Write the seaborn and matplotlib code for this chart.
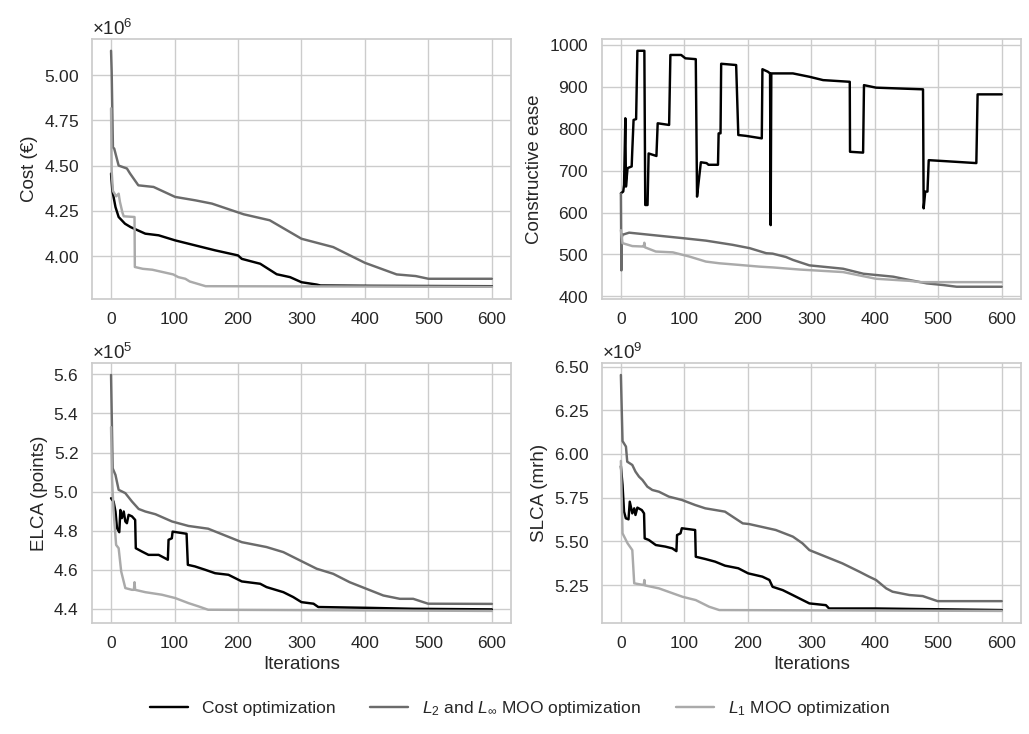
import numpy as np
import pandas as pd
import matplotlib
matplotlib.use("Agg")
import matplotlib.pyplot as plt
import seaborn as sns

# ── Data ──────────────────────────────────────────────────────
METHODS = ["Cost optimization", r"$L_2$ and $L_\infty$ MOO optimization", r"$L_1$ MOO optimization"]
COLORS = ["#000000", "#6b6b6b", "#aaaaaa"]

# Cost (x1e6 EUR)
cost_c_x = [0, 2, 7, 12, 22, 31, 54, 75, 101, 133, 164, 200, 206, 235, 261, 282, 300, 324, 330, 410, 600]
cost_c_y = [4.456, 4.364, 4.271, 4.216, 4.179, 4.16, 4.124, 4.115, 4.087, 4.059, 4.032, 4.004, 3.985,
            3.958, 3.90, 3.884, 3.856, 3.843, 3.838, 3.836, 3.834]
cost_l2_x = [0, 1, 3, 5, 12, 25, 30, 43, 67, 101, 133, 159, 209, 250, 300, 350, 400, 450, 480, 500, 600]
cost_l2_y = [5.134, 5.02, 4.60, 4.594, 4.50, 4.484, 4.456, 4.391, 4.382, 4.327, 4.308, 4.29, 4.231,
             4.198, 4.096, 4.05, 3.963, 3.899, 3.89, 3.875, 3.875]
cost_l1_x = [0, 1, 3, 8, 12, 14, 18, 20, 37, 37.5, 50, 65, 98, 106, 117, 124, 149, 600]
cost_l1_y = [4.816, 4.47, 4.36, 4.33, 4.345, 4.30, 4.24, 4.22, 4.216, 3.94, 3.93, 3.925, 3.899, 3.884,
             3.875, 3.86, 3.834, 3.831]

# Constructive ease
ease_c_x = [0, 3.7, 5, 7, 8, 10.5, 17, 18, 20, 24, 26, 37, 38.4, 42, 43.7, 56, 58, 76, 78, 95,
            101.6, 118, 120, 122.6, 126, 135, 138, 153, 154, 157, 158, 181.6, 185, 197, 222, 223,
            231.6, 235, 236, 237, 271, 297, 318.6, 360.6, 361, 381.6, 383, 402, 476, 477, 479.5,
            483, 485, 507, 560, 562, 600]
ease_c_y = [646, 650, 666, 825, 662, 706, 710, 749, 821, 823, 986, 986, 618, 618, 741, 735, 813, 809,
            976, 976, 968, 966, 638, 674, 720, 718, 714, 714, 789, 789, 955, 952, 785, 783, 777, 942,
            936, 932, 570, 932, 932, 924, 916, 912, 745, 743, 904, 898, 894, 610, 650, 650, 725, 723,
            718, 882, 882]
ease_l2_x = [0, 0.8, 1.5, 2.6, 13, 71, 97, 134, 176, 203, 229, 239, 260, 271, 297, 350, 382, 429,
             455, 482, 508, 529, 600]
ease_l2_y = [645, 462, 540, 547, 552, 543, 539, 533, 523, 515, 503, 502, 494, 487, 474, 466, 454, 447,
             439, 431, 427, 423, 423]
ease_l1_x = [0, 2.6, 18, 34, 36, 37, 38, 55, 82, 108, 134, 155, 187, 218, 240, 282, 350, 402, 455,
             471, 600]
ease_l1_y = [558, 527, 520, 519, 519, 528, 517, 507, 505, 495, 483, 479, 475, 471, 469, 464, 458, 442,
             437, 434, 434]

# ELCA (x1e5 points)
elca_c_x = [0, 4, 7, 9.4, 13, 14.7, 17, 20, 22.5, 25, 27.7, 33, 38, 39, 48.7, 59, 75, 85, 89.5, 90.6,
            95.8, 97, 119, 121, 132, 148, 164, 185, 206, 235, 245, 271.5, 287, 300, 319, 326.5,
            402.5, 476, 600]
elca_c_y = [4.966, 4.949, 4.898, 4.813, 4.792, 4.906, 4.864, 4.898, 4.847, 4.838, 4.881, 4.873, 4.855,
            4.71, 4.693, 4.676, 4.676, 4.659, 4.651, 4.753, 4.761, 4.795, 4.784, 4.625, 4.617, 4.6,
            4.582, 4.574, 4.54, 4.528, 4.511, 4.485, 4.46, 4.434, 4.426, 4.409, 4.405, 4.40, 4.397]
elca_l2_x = [0, 2.6, 7, 12, 22.5, 33, 43.5, 54, 70, 96, 122, 153, 206, 245, 271.5, 298, 324, 350,
             376, 402.5, 429, 455, 476, 499.5, 600]
elca_l2_y = [5.597, 5.119, 5.085, 5.009, 4.992, 4.949, 4.911, 4.898, 4.884, 4.847, 4.824, 4.81, 4.741,
             4.716, 4.69, 4.647, 4.605, 4.579, 4.536, 4.502, 4.468, 4.451, 4.451, 4.426, 4.425]
elca_l1_x = [0, 1.6, 4, 8, 12, 16, 22.5, 33, 36, 37, 38, 54, 80, 101, 122, 138, 153, 600]
elca_l1_y = [5.33, 5.068, 4.90, 4.727, 4.71, 4.591, 4.506, 4.497, 4.497, 4.536, 4.497, 4.485, 4.472,
             4.455, 4.429, 4.412, 4.395, 4.389]

# SLCA (x1e9 mrh)
slca_c_x = [0, 2.6, 5, 7.8, 12, 14, 18, 21, 23, 26, 33, 36.5, 37.5, 44, 55, 70, 81, 87.5, 88.5, 94,
            96, 117, 118, 133, 148.4, 164, 185, 200.5, 223, 234, 239, 255, 270.6, 281, 297, 323,
            328, 402, 600]
slca_c_y = [5.93, 5.823, 5.67, 5.632, 5.626, 5.727, 5.66, 5.689, 5.651, 5.693, 5.679, 5.66, 5.517,
            5.508, 5.479, 5.47, 5.46, 5.444, 5.536, 5.546, 5.575, 5.565, 5.412, 5.399, 5.384, 5.361,
            5.346, 5.317, 5.298, 5.279, 5.24, 5.221, 5.193, 5.174, 5.145, 5.135, 5.116, 5.116, 5.107]
slca_l2_x = [0, 2.6, 8, 10, 18, 23, 28.6, 34, 41.7, 49.5, 60, 75.5, 96, 117, 133, 164, 192, 202, 244,
             271, 286, 297, 323, 349, 376, 391, 402, 418, 428, 454.5, 475.5, 499, 600]
slca_l2_y = [6.452, 6.074, 6.042, 5.956, 5.937, 5.899, 5.87, 5.851, 5.813, 5.794, 5.784, 5.756, 5.737,
             5.708, 5.689, 5.67, 5.603, 5.599, 5.565, 5.527, 5.489, 5.45, 5.412, 5.374, 5.326, 5.298,
             5.279, 5.231, 5.212, 5.193, 5.187, 5.158, 5.158]
slca_l1_x = [0, 2.6, 10.5, 18, 21, 36, 37, 38, 60, 97, 118, 139, 155, 600]
slca_l1_y = [5.96, 5.546, 5.489, 5.45, 5.26, 5.25, 5.279, 5.248, 5.231, 5.183, 5.164, 5.126, 5.107, 5.102]

PANELS = [
    ("Cost (€)", 1e6, [(cost_c_x, cost_c_y), (cost_l2_x, cost_l2_y), (cost_l1_x, cost_l1_y)]),
    ("Constructive ease", 1, [(ease_c_x, ease_c_y), (ease_l2_x, ease_l2_y), (ease_l1_x, ease_l1_y)]),
    ("ELCA (points)", 1e5, [(elca_c_x, elca_c_y), (elca_l2_x, elca_l2_y), (elca_l1_x, elca_l1_y)]),
    ("SLCA (mrh)", 1e9, [(slca_c_x, slca_c_y), (slca_l2_x, slca_l2_y), (slca_l1_x, slca_l1_y)]),
]

# ── Style ────────────────────────────────────────────────────
sns.set_theme(style="whitegrid", context="notebook", font_scale=1.1)
plt.rcParams["font.family"] = ["Liberation Sans", "DejaVu Sans"]
plt.rcParams.update({
    "mathtext.fontset": "custom",
    "mathtext.rm": "Liberation Sans",
    "mathtext.it": "Liberation Sans:italic",
    "mathtext.bf": "Liberation Sans:bold",
})

fig, axes = plt.subplots(2, 2, figsize=(10.29, 7.34), dpi=100)
fig.subplots_adjust(left=0.0894, right=0.992, top=0.9469, bottom=0.1516, wspace=0.217, hspace=0.249)

for ax, (ylabel, scale, series) in zip(axes.flatten(), PANELS):
    frames = []
    for name, (xs, ys) in zip(METHODS, series):
        frames.append(pd.DataFrame({"Iterations": xs,
                                    "value": np.array(ys) * scale,
                                    "method": name}))
    df = pd.concat(frames, ignore_index=True)
    sns.lineplot(data=df, x="Iterations", y="value", hue="method", hue_order=METHODS,
                 palette=COLORS, estimator=None, sort=False, linewidth=1.75,
                 legend=False, ax=ax)
    ax.set_ylabel(ylabel, fontsize=13.5)
    ax.set_xlabel(ax.get_xlabel(), fontsize=13.5)
    ax.tick_params(labelsize=12.5)
    ax.set_xticks([0, 100, 200, 300, 400, 500, 600])
    fmt = matplotlib.ticker.ScalarFormatter(useMathText=True)
    fmt.set_powerlimits((-3, 4))
    ax.yaxis.set_major_formatter(fmt)
    ax.yaxis.get_offset_text().set_fontsize(13.5)

for ax in axes[0]:
    ax.set_xlabel("")

handles = [matplotlib.lines.Line2D([], [], color=c, lw=1.75) for c in COLORS]
fig.legend(handles, METHODS, loc="lower center", bbox_to_anchor=(0.505, 0.0), ncol=3,
           frameon=False, columnspacing=2.0, fontsize=12.5, handlelength=2.2)

fig.savefig("out.png", dpi=100)
